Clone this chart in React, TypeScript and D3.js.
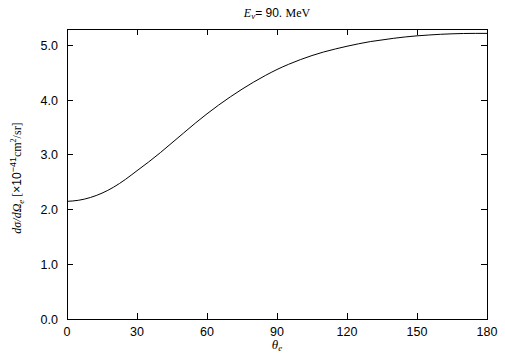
import * as d3 from "d3";

const angles = [0, 5, 10, 15, 20, 25, 30, 35, 40, 45, 50, 55, 60, 65, 70, 75, 80, 85, 90, 95, 100, 105, 110, 115, 120, 125, 130, 135, 140, 145, 150, 155, 160, 165, 170, 175, 180];
const xsec = [2.15, 2.17, 2.22, 2.30, 2.41, 2.55, 2.71, 2.87, 3.04, 3.22, 3.40, 3.58, 3.75, 3.91, 4.06, 4.20, 4.33, 4.45, 4.56, 4.655, 4.74, 4.815, 4.88, 4.935, 4.985, 5.03, 5.07, 5.10, 5.13, 5.155, 5.175, 5.19, 5.203, 5.212, 5.218, 5.22, 5.22];
const xTicks = [0, 30, 60, 90, 120, 150, 180];
const yTicks = [0, 1, 2, 3, 4, 5];

const W = 505;
const H = 361;
const m = { left: 67, right: 18, top: 29, bottom: 42 };

export default function App() {
  const x = d3.scaleLinear().domain([0, 180]).range([m.left, W - m.right]);
  const y = d3.scaleLinear().domain([0, 5.3]).range([H - m.bottom, m.top]);
  const line = d3
    .line<number>()
    .x((_, i) => x(angles[i]))
    .y((d) => y(d))
    .curve(d3.curveMonotoneX);

  const sans = "Liberation Sans, Arial, sans-serif";
  const serif = "Liberation Serif, Times New Roman, serif";
  const x0 = m.left, x1 = W - m.right, y0 = H - m.bottom, y1 = m.top;

  return (
    <svg width={W} height={H} style={{ position: "absolute", left: 0, top: 0, background: "#fff" }}>
      <path d={line(xsec) || ""} fill="none" stroke="#000" strokeWidth={1} />
      <rect x={x0} y={y1} width={x1 - x0} height={y0 - y1} fill="none" stroke="#000" strokeWidth={1} shapeRendering="crispEdges" />
      {xTicks.map((t) => (
        <g key={"x" + t} shapeRendering="crispEdges">
          <line x1={x(t)} x2={x(t)} y1={y0} y2={y0 - 6} stroke="#000" />
          <line x1={x(t)} x2={x(t)} y1={y1} y2={y1 + 6} stroke="#000" />
          <text x={x(t)} y={y0 + 17} textAnchor="middle" fontFamily={sans} fontSize={12.5}>
            {t}
          </text>
        </g>
      ))}
      {yTicks.map((t) => (
        <g key={"y" + t} shapeRendering="crispEdges">
          <line x1={x0} x2={x0 + 6} y1={y(t)} y2={y(t)} stroke="#000" />
          <line x1={x1} x2={x1 - 6} y1={y(t)} y2={y(t)} stroke="#000" />
          <text x={x0 - 9} y={y(t) + 4.5} textAnchor="end" fontFamily={sans} fontSize={12.5}>
            {t.toFixed(1)}
          </text>
        </g>
      ))}
      <text x={277} y={17} textAnchor="middle" fontSize={12}>
        <tspan fontFamily={serif} fontStyle="italic">E</tspan>
        <tspan fontFamily={serif} fontStyle="italic" fontSize={9} dy={2}>ν</tspan>
        <tspan fontFamily={sans} dy={-2}>= 90. </tspan>
        <tspan fontFamily={serif}>MeV</tspan>
      </text>
      <text x={277} y={349} textAnchor="middle" fontSize={13}>
        <tspan fontFamily={serif} fontStyle="italic">θ</tspan>
        <tspan fontFamily={serif} fontStyle="italic" fontSize={9} dy={2}>e</tspan>
      </text>
      <text transform={`translate(21,${(y0 + y1) / 2 + 4}) rotate(-90)`} textAnchor="middle" fontSize={12}>
        <tspan fontFamily={serif} fontStyle="italic">dσ/dΩ</tspan>
        <tspan fontFamily={serif} fontStyle="italic" fontSize={9} dy={3}>e</tspan>
        <tspan fontFamily={serif} dy={-3}> [</tspan>
        <tspan fontFamily={sans}>×10</tspan>
        <tspan fontFamily={sans} fontSize={9} dy={-5}>−41</tspan>
        <tspan fontFamily={serif} dy={5}>cm</tspan>
        <tspan fontFamily={serif} fontSize={8} dy={-5}>2</tspan>
        <tspan fontFamily={serif} dy={5}>/sr]</tspan>
      </text>
    </svg>
  );
}
